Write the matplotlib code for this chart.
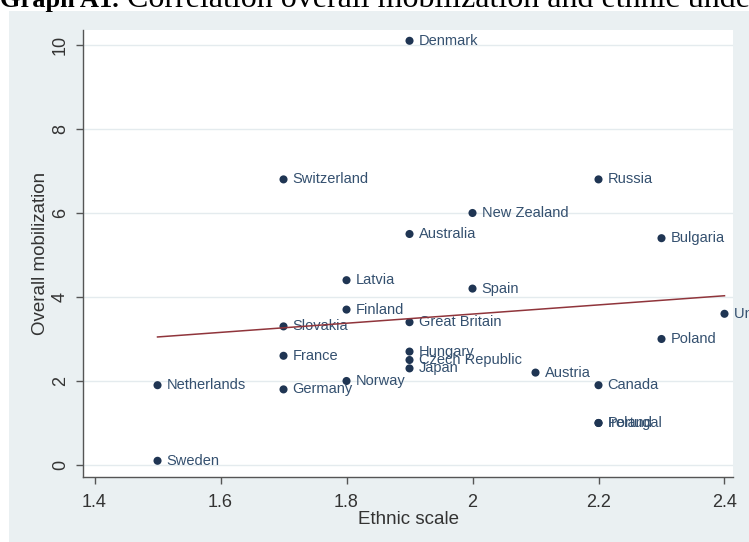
import numpy as np
import matplotlib
matplotlib.use("Agg")
import matplotlib.pyplot as plt
from matplotlib.patches import Rectangle

# Country-level values: ethnic scale vs. overall mobilization
countries = ["Denmark", "Switzerland", "Russia", "New Zealand", "Australia",
             "Bulgaria", "Latvia", "Spain", "Finland", "United States",
             "Great Britain", "Slovakia", "Poland", "Hungary", "France",
             "Czech Republic", "Japan", "Austria", "Norway", "Netherlands",
             "Canada", "Germany", "Portugal", "Ireland", "Sweden"]
ethnic_scale = [1.9, 1.7, 2.2, 2.0, 1.9,
                2.3, 1.8, 2.0, 1.8, 2.4,
                1.9, 1.7, 2.3, 1.9, 1.7,
                1.9, 1.9, 2.1, 1.8, 1.5,
                2.2, 1.7, 2.2, 2.2, 1.5]
mobilization = [10.1, 6.8, 6.8, 6.0, 5.5,
                5.4, 4.4, 4.2, 3.7, 3.6,
                3.4, 3.3, 3.0, 2.7, 2.6,
                2.5, 2.3, 2.2, 2.0, 1.9,
                1.9, 1.8, 1.0, 1.0, 0.1]

x_ticks = [1.4, 1.6, 1.8, 2.0, 2.2, 2.4]
x_tick_labels = ["1.4", "1.6", "1.8", "2", "2.2", "2.4"]
y_ticks = [0, 2, 4, 6, 8, 10]
y_tick_labels = ["0", "2", "4", "6", "8", "10"]

W, H = 749, 542
plt.rcParams["font.family"] = ["Liberation Sans", "DejaVu Sans"]

fig = plt.figure(figsize=(W / 100, H / 100), dpi=100, facecolor="white")

# Light graph-region panel behind the plot
fig.patches.append(Rectangle((9 / W, 0), (W - 9) / W, (H - 11) / H,
                             transform=fig.transFigure, facecolor="#EAF0F2",
                             edgecolor="none", zorder=-5))

# Document caption running along the top
cap_y = 1 - 7 / H
t1 = fig.text(0, cap_y, "Graph A1.", ha="left", va="baseline",
              family="Liberation Serif", fontweight="bold", fontsize=19, color="black")
fig.canvas.draw()
bb = t1.get_window_extent()
fig.text((bb.x1 + 8) / W, cap_y,
         "Correlation overall mobilization and ethnic understanding",
         ha="left", va="baseline", family="Liberation Serif", fontsize=23, color="black")

ax = fig.add_axes([83 / W, (H - 477) / H, 650 / W, 447 / H])
ax.set_zorder(1)
ax.set_facecolor("white")
ax.set_xlim(1.3817, 2.4135)
ax.set_ylim(-0.286, 10.357)

ax.set_yticks(y_ticks)
ax.set_yticklabels(y_tick_labels, rotation=90, va="center")
ax.set_xticks(x_ticks)
ax.set_xticklabels(x_tick_labels)

for side in ("top", "right"):
    ax.spines[side].set_visible(False)
for side in ("left", "bottom"):
    ax.spines[side].set_color("#555555")
    ax.spines[side].set_linewidth(1.0)

ax.tick_params(axis="both", direction="out", length=5, width=1.0,
               color="#555555", labelsize=13, labelcolor="#333333")
ax.tick_params(axis="x", pad=7)
ax.tick_params(axis="y", pad=5)

ax.yaxis.grid(True, color="#E4EBEE", linewidth=1.0)
ax.set_axisbelow(True)

ax.set_xlabel("Ethnic scale", fontsize=13.5, color="#333333")
ax.set_ylabel("Overall mobilization", fontsize=13.5, color="#333333")
ax.xaxis.set_label_coords(0.5, -0.077)
ax.yaxis.set_label_coords(-0.052, 0.5)

ax.scatter(ethnic_scale, mobilization, s=34, color="#1F3553", zorder=3,
           edgecolors="none")
for name, xv, yv in zip(countries, ethnic_scale, mobilization):
    ax.annotate(name, (xv, yv), xytext=(6.5, 0), textcoords="offset points",
                va="center", ha="left", fontsize=10.5, color="#34506F",
                zorder=4, annotation_clip=False)

# Linear fit drawn across the observed range
slope, intercept = np.polyfit(ethnic_scale, mobilization, 1)
fit_x = np.array([min(ethnic_scale), max(ethnic_scale)])
ax.plot(fit_x, intercept + slope * fit_x, color="#90353B", linewidth=1.1, zorder=5)

fig.savefig("out.png", dpi=100, facecolor="white")
